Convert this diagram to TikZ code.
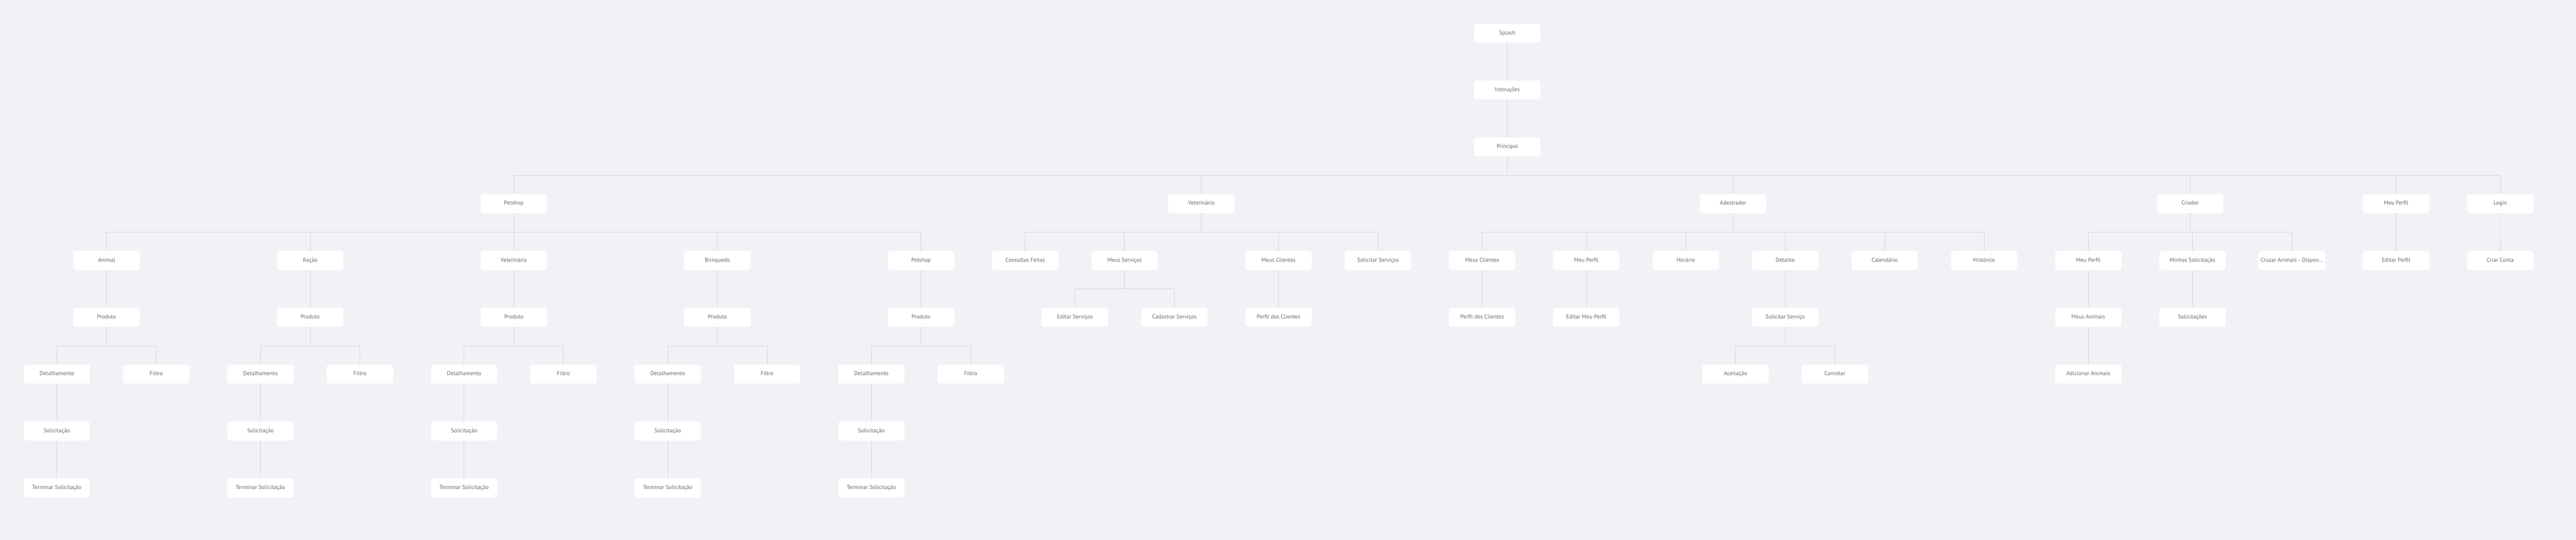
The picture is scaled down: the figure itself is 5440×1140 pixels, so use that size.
\documentclass[tikz,border=0pt]{standalone}
\usepackage{fontspec}
\setmainfont{PT Sans}
\definecolor{bg}{HTML}{F1F2F6}
\definecolor{ln}{HTML}{D3D3D9}
\definecolor{tx}{HTML}{666666}
\newcommand\tedge[2]{\draw[conn] (#1.south) -- ++(0,40) -| (#2.north);}
\begin{document}
\begin{tikzpicture}[x=1pt,y=-1pt,
  box/.style={fill=white,rounded corners=5pt,minimum width=140pt,minimum height=40pt,inner sep=0pt,text height=8.6pt,text depth=2.8pt,text=tx,font=\fontsize{12}{14}\selectfont},
  conn/.style={draw=ln,line width=1pt}]
\fill[bg] (0,0) rectangle (5440,1140);
\useasboundingbox (0,0) rectangle (5440,1140);
% top chain
\node[box] (splash) at (3183,70) {Splash};
\node[box] (instr) at (3183,190) {Instruções};
\node[box] (princ) at (3183,310) {Principal};
\tedge{splash}{instr}
\tedge{instr}{princ}
% level 4
\node[box] (petshop) at (1085,430) {Petshop};
\node[box] (vet) at (2537,430) {Veterinário};
\node[box] (adest) at (3660,430) {Adestrador};
\node[box] (criador) at (4625,430) {Criador};
\node[box] (meuperfil) at (5060,430) {Meu Perfil};
\node[box] (login) at (5280,430) {Login};
\foreach \c in {petshop,vet,adest,criador,meuperfil,login} {\tedge{princ}{\c}}
% petshop subtrees
\foreach \n/\x/\t in {a/225/Animal, b/655/Ração, c/1085/Veterinária, d/1515/Brinquedo, e/1945/Petshop} {
  \node[box] (s\n) at (\x,550) {\t};
  \node[box] (p\n) at (\x,670) {Produto};
  \node[box] (d\n) at (\x-105,790) {Detalhamento};
  \node[box] (f\n) at (\x+105,790) {Filtro};
  \node[box] (o\n) at (\x-105,910) {Solicitação};
  \node[box] (t\n) at (\x-105,1030) {Terminar Solicitação};
  \tedge{petshop}{s\n}
  \tedge{s\n}{p\n}
  \tedge{p\n}{d\n}
  \tedge{p\n}{f\n}
  \tedge{d\n}{o\n}
  \tedge{o\n}{t\n}
}
% veterinario
\node[box] (consultas) at (2165,550) {Consultas Feitas};
\node[box] (meusserv) at (2375,550) {Meus Serviços};
\node[box] (vclientes) at (2700,550) {Meus Clientes};
\node[box] (solserv) at (2910,550) {Solicitar Serviços};
\node[box] (editserv) at (2270,670) {Editar Serviços};
\node[box] (cadserv) at (2480,670) {Cadastrar Serviços};
\node[box] (vperfilcl) at (2700,670) {Perfil dos Clientes};
\foreach \c in {consultas,meusserv,vclientes,solserv} {\tedge{vet}{\c}}
\tedge{meusserv}{editserv}
\tedge{meusserv}{cadserv}
\tedge{vclientes}{vperfilcl}
% adestrador
\node[box] (aclientes) at (3130,550) {Meus Clientes};
\node[box] (aperfil) at (3350,550) {Meu Perfil};
\node[box] (horario) at (3560,550) {Horário};
\node[box] (detalhe) at (3770,550) {Detalhe};
\node[box] (calend) at (3980,550) {Calendário};
\node[box] (hist) at (4190,550) {Histórico};
\node[box] (aperfilcl) at (3130,670) {Perfil dos Clientes};
\node[box] (editmeu) at (3350,670) {Editar Meu Perfil};
\node[box] (solservico) at (3770,670) {Solicitar Serviço};
\node[box] (aceit) at (3665,790) {Aceitação};
\node[box] (cancelar) at (3875,790) {Cancelar};
\foreach \c in {aclientes,aperfil,horario,detalhe,calend,hist} {\tedge{adest}{\c}}
\tedge{aclientes}{aperfilcl}
\tedge{aperfil}{editmeu}
\tedge{detalhe}{solservico}
\tedge{solservico}{aceit}
\tedge{solservico}{cancelar}
% criador
\node[box] (cperfil) at (4410,550) {Meu Perfil};
\node[box] (minhas) at (4630,550) {Minhas Solicitação};
\node[box] (cruzar) at (4840,550) {Cruzar Animais - Dispon...};
\node[box] (meusanim) at (4410,670) {Meus Animais};
\node[box] (solicitacoes) at (4630,670) {Solicitações};
\node[box] (adicionar) at (4410,790) {Adicionar Animais};
\foreach \c in {cperfil,minhas,cruzar} {\tedge{criador}{\c}}
\tedge{cperfil}{meusanim}
\tedge{meusanim}{adicionar}
\tedge{minhas}{solicitacoes}
% meu perfil, login
\node[box] (editperfil) at (5060,550) {Editar Perfil};
\node[box] (criar) at (5280,550) {Criar Conta};
\tedge{meuperfil}{editperfil}
\tedge{login}{criar}
\end{tikzpicture}
\end{document}
